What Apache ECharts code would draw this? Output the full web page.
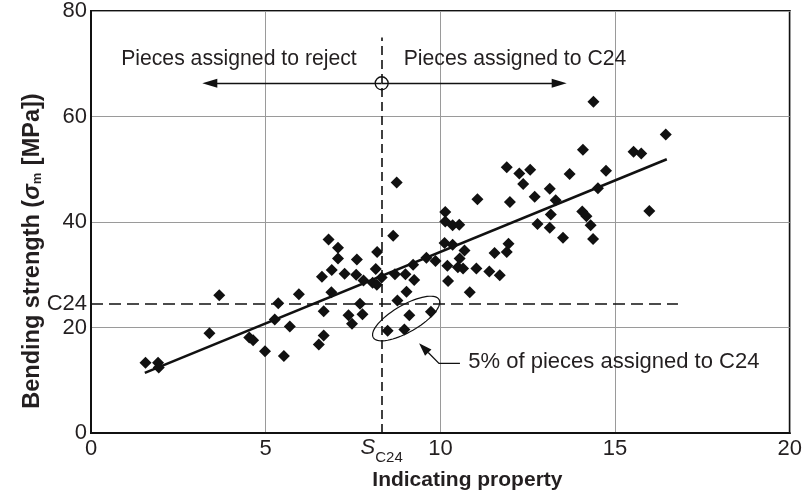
<!DOCTYPE html>
<html>
<head>
<meta charset="utf-8">
<script src="https://cdn.jsdelivr.net/npm/echarts@6/dist/echarts.min.js"></script>
<style>
  html, body { margin: 0; padding: 0; background: #fff; }
  #chart { width: 805px; height: 496px; }
</style>
</head>
<body>
<div id="chart"></div>
<script>
// Axis ticks
const xTicks = [0, 5, 10, 15, 20];
const yTicks = [0, 20, 40, 60, 80];

// Sample pieces: indicating property vs. bending strength (MPa)
const indicatingProperty = [
  1.56, 1.92, 1.94, 3.39, 3.67, 4.53, 4.64, 4.98, 5.26, 5.36, 5.52, 5.69, 5.95,
  6.52, 6.66, 6.66, 6.61, 6.80, 6.88, 6.89, 7.07, 7.07, 7.26, 7.37, 7.47, 7.59,
  7.61, 7.70, 7.77, 7.80, 8.06, 8.15, 8.18, 8.19, 8.32, 8.49, 8.65, 8.70, 8.75,
  8.77, 8.97, 9.00, 9.03, 9.11, 9.25,
  9.22, 9.60, 9.73, 9.86, 10.12, 10.14, 10.14, 10.20, 10.22, 10.35, 10.35, 10.50,
  10.54, 10.55, 10.65, 10.69, 10.84, 11.03, 11.06, 11.40, 11.55, 11.70, 11.90,
  11.95, 11.99,
  11.90, 12.26, 12.37, 12.57, 12.70, 12.78, 13.13, 13.13, 13.16, 13.30, 13.51,
  13.70, 14.06, 14.08, 14.18, 14.30, 14.37, 14.38, 14.51, 14.74, 15.53, 15.75,
  15.98, 16.45
];
const bendingStrength = [
  13.3, 13.3, 12.4, 18.9, 26.1, 18.1, 17.6, 15.5, 21.5, 24.6, 14.6, 20.2, 26.3,
  16.8, 18.5, 23.1, 29.6, 36.7, 26.7, 30.9, 35.1, 33.1, 30.2, 22.3, 20.7, 30.0,
  32.9, 24.5, 22.5, 28.9, 28.5, 31.1, 28.1, 34.3, 29.5, 19.4, 37.4, 30.1, 47.5,
  25.1, 19.6, 30.1, 26.8, 22.3, 29.0,
  31.9, 33.2, 23.0, 32.6, 36.0, 41.9, 40.1, 31.7, 28.8, 39.4, 35.7, 31.4,
  39.5, 33.1, 31.2, 34.6, 26.7, 31.2, 44.3, 30.6, 34.1, 29.9, 34.3,
  35.9, 43.8,
  50.4, 49.2, 47.2, 49.9, 44.8, 39.6, 46.3, 38.9, 41.4, 44.1, 37.0,
  49.1, 42.0, 53.7, 41.1, 39.4, 36.8, 62.8, 46.4, 49.7, 53.3, 53.0,
  42.1, 56.6
];

// Regression line end points
const regressionX = [1.54, 16.48];
const regressionY = [11.4, 51.9];

// Grading thresholds
const settingS = 8.32;     // machine setting S_C24
const gradeC24 = 24.5;     // C24 strength level
const arrowLevel = 66.3;   // height of the assignment arrows
const arrowLeftEnd = 3.4;
const arrowRightEnd = 13.4;
const settingTop = 75;

const SANS = "'Liberation Sans',Arial,Helvetica,sans-serif";
const INK = '#231f20';

const points = indicatingProperty.map((x, i) => [x, bendingStrength[i]]);
const regression = regressionX.map((x, i) => [x, regressionY[i]]);

const chart = echarts.init(document.getElementById('chart'), null, { renderer: 'canvas' });

chart.setOption({
  animation: false,
  backgroundColor: '#fff',
  grid: {
    left: 91, right: 11, top: 8, bottom: 63,
    show: true, borderColor: '#111', borderWidth: 2, backgroundColor: 'transparent'
  },
  xAxis: {
    type: 'value', min: xTicks[0], max: xTicks[xTicks.length - 1], interval: 5,
    axisLine: { show: true, onZero: false, lineStyle: { color: '#111', width: 2 } },
    axisTick: { show: false },
    splitLine: { show: true, lineStyle: { color: '#9a9a9a', width: 1 } },
    axisLabel: { color: INK, fontFamily: SANS, fontSize: 22, margin: 5 },
    name: 'Indicating property',
    nameLocation: 'middle', nameGap: 37,
    nameTextStyle: { color: INK, fontFamily: SANS, fontWeight: 'bold', fontSize: 21, padding: [0, 0, 0, 54] }
  },
  yAxis: {
    type: 'value', min: yTicks[0], max: yTicks[yTicks.length - 1], interval: 20,
    axisLine: { show: true, onZero: false, lineStyle: { color: '#111', width: 2 } },
    axisTick: { show: false },
    splitLine: { show: true, lineStyle: { color: '#9a9a9a', width: 1 } },
    axisLabel: { color: INK, fontFamily: SANS, fontSize: 22, margin: 4 }
  },
  series: [
    {
      name: 'pieces',
      type: 'scatter',
      data: points,
      symbol: 'diamond',
      symbolSize: [12, 12],
      itemStyle: { color: '#111', opacity: 1 },
      z: 5
    },
    {
      name: 'regression',
      type: 'line',
      data: regression,
      symbol: 'none',
      lineStyle: { color: '#111', width: 2.6 },
      z: 4
    },
    {
      name: 'thresholds',
      type: 'line',
      data: [],
      silent: true,
      markLine: {
        silent: true,
        symbol: ['none', 'none'],
        animation: false,
        data: [
          [
            { coord: [settingS, 0], lineStyle: { color: '#111', width: 1.6, type: [9, 5] },
              label: { show: true, position: 'start', distance: 3,
                formatter: '{s|S}{sub|C24}',
                rich: {
                  s: { fontFamily: SANS, fontStyle: 'italic', fontSize: 22, color: INK, lineHeight: 24, verticalAlign: 'middle' },
                  sub: { fontFamily: SANS, fontSize: 15, color: INK, lineHeight: 24, verticalAlign: 'bottom', padding: [0, 0, -5, 0] }
                } } },
            { coord: [settingS, settingTop] }
          ],
          [
            { coord: [0, gradeC24], lineStyle: { color: '#111', width: 1.6, type: [12, 6] },
              label: { show: true, position: 'start', distance: 4, formatter: 'C24',
                fontFamily: SANS, fontSize: 22, color: INK } },
            { coord: [16.8, gradeC24] }
          ]
        ]
      },
      z: 3
    },
    {
      name: 'assignment',
      type: 'line',
      data: [],
      silent: true,
      markLine: {
        silent: true,
        animation: false,
        symbol: ['none', 'triangle'],
        symbolSize: [9, 15],
        label: { show: false },
        lineStyle: { color: '#111', width: 1.4, type: 'solid' },
        data: [
          [{ coord: [settingS, arrowLevel] }, { coord: [arrowLeftEnd, arrowLevel] }],
          [{ coord: [settingS, arrowLevel] }, { coord: [arrowRightEnd, arrowLevel] }]
        ]
      },
      z: 3
    }
  ]
});

// Annotations placed in data coordinates
function px(x, y) { return chart.convertToPixel({ gridIndex: 0 }, [x, y]); }

const circleC = px(settingS, arrowLevel);
const textY = px(0, 70.8)[1];

// Ellipse around the misassigned pieces
const ellC = px(9.02, 21.7);
const ra = 38, rb = 13.5, rot = -30 * Math.PI / 180;
const ellPts = [];
for (let k = 0; k < 72; k++) {
  const t = k / 72 * Math.PI * 2;
  const ex = ra * Math.cos(t), ey = rb * Math.sin(t);
  ellPts.push([ellC[0] + ex * Math.cos(rot) - ey * Math.sin(rot),
               ellC[1] + ex * Math.sin(rot) + ey * Math.cos(rot)]);
}

// Leader from the note to the ellipse
const tip = px(9.39, 17.0);
const knee = px(9.96, 13.2);
const lead = px(10.56, 13.2);
const noteAt = px(10.8, 13.4);
const dx = tip[0] - knee[0], dy = tip[1] - knee[1];
const len = Math.hypot(dx, dy), ux = dx / len, uy = dy / len;
const hl = 13, hw = 4.5;
const base = [tip[0] - ux * hl, tip[1] - uy * hl];
const head = [tip, [base[0] - uy * hw, base[1] + ux * hw], [base[0] + uy * hw, base[1] - ux * hw]];

// Y axis title, centred on the lower part of the axis
const yTitle = px(0, 34.5);

chart.setOption({
  graphic: [
    { type: 'text', x: 33, y: yTitle[1], rotation: Math.PI / 2,
      style: {
        text: '{t|Bending strength (}{s|σ}{sub|m}{t| [MPa])}',
        textAlign: 'center', textVerticalAlign: 'middle',
        rich: {
          t: { fontFamily: SANS, fontWeight: 'bold', fontSize: 23.5, fill: INK, lineHeight: 28, verticalAlign: 'middle' },
          s: { fontFamily: SANS, fontWeight: 'bold', fontStyle: 'italic', fontSize: 23.5, fill: INK, lineHeight: 28, verticalAlign: 'middle' },
          sub: { fontFamily: SANS, fontWeight: 'bold', fontSize: 13, fill: INK, lineHeight: 28, verticalAlign: 'bottom', padding: [0, 1, 3, 0] }
        }
      }, z: 10 },
    { type: 'circle', shape: { cx: circleC[0], cy: circleC[1], r: 6.5 },
      style: { fill: 'rgba(0,0,0,0)', stroke: '#111', lineWidth: 1.3 }, z: 10 },
    { type: 'text', x: circleC[0] - 25, y: textY,
      style: { text: 'Pieces assigned to reject', fontFamily: SANS, fontSize: 21.2, fill: INK,
               textAlign: 'right', textVerticalAlign: 'middle' }, z: 10 },
    { type: 'text', x: circleC[0] + 22, y: textY,
      style: { text: 'Pieces assigned to C24', fontFamily: SANS, fontSize: 21.2, fill: INK,
               textAlign: 'left', textVerticalAlign: 'middle' }, z: 10 },
    { type: 'polygon', shape: { points: ellPts },
      style: { fill: 'rgba(0,0,0,0)', stroke: '#111', lineWidth: 1.2 }, z: 10 },
    { type: 'polyline', shape: { points: [lead, knee, base] },
      style: { fill: null, stroke: '#111', lineWidth: 1.3 }, z: 10 },
    { type: 'polygon', shape: { points: head }, style: { fill: '#111' }, z: 10 },
    { type: 'text', x: noteAt[0], y: noteAt[1],
      style: { text: '5% of pieces assigned to C24', fontFamily: SANS, fontSize: 22, fill: INK,
               textAlign: 'left', textVerticalAlign: 'middle' }, z: 10 }
  ]
});
</script>
</body>
</html>
